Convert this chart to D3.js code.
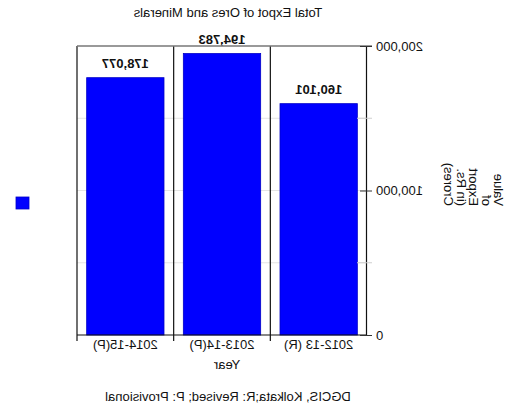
<!DOCTYPE html>
<html>
<head>
<meta charset="utf-8">
<script src="https://cdn.jsdelivr.net/npm/d3@7"></script>
<style>
  html, body { margin: 0; padding: 0; background: #fff; }
  svg { display: block; font-family: "Liberation Sans", Arial, sans-serif; }
</style>
</head>
<body>
<svg id="chart" width="514" height="408"></svg>
<script>
// Export value of ores and minerals, Rs. crores
const categories = ["2012-13 (R)", "2013-14(P)", "2014-15(P)"];
const values = [160101, 194783, 178077];
const yTicks = [0, 100000, 200000];
const yMinor = [50000, 150000];
const titleText = "Total Expot of Ores and Minerals";
const xTitle = "Year";
const yTitleLines = ["Value", "of", "Export", "(in Rs.", "Crores)"];
const sourceText = "DGCIS, Kolkata;R: Revised; P: Provisional";

const W = 514, H = 408;
const plot = { left: 147, right: 437, top: 46, bottom: 335 };
const fmt = d3.format(",");

const svg = d3.select("#chart");
// the whole chart is drawn flipped left-to-right
const root = svg.append("g").attr("transform", `translate(${W},0) scale(-1,1)`);

const x = d3.scaleBand().domain(categories).range([plot.left, plot.right])
  .paddingInner(0.2).paddingOuter(0.1);
const y = d3.scaleLinear().domain([0, 200000]).range([plot.bottom, plot.top]);

// light horizontal gridlines
root.append("g").selectAll("line").data(yMinor.concat([100000])).join("line")
  .attr("x1", plot.left).attr("x2", plot.right)
  .attr("y1", d => y(d)).attr("y2", d => y(d))
  .attr("stroke", "#e4e4e4").attr("stroke-width", 1);

// bars
root.append("g").selectAll("rect").data(values).join("rect")
  .attr("x", (d, i) => x(categories[i]))
  .attr("width", x.bandwidth())
  .attr("y", d => y(d))
  .attr("height", d => y(0) - y(d))
  .attr("fill", "#0000ff")
  .attr("stroke", "#0000c8").attr("stroke-width", 0.8);

// value labels
root.append("g").selectAll("text").data(values).join("text")
  .attr("x", (d, i) => x(categories[i]) + x.bandwidth() / 2)
  .attr("y", d => y(d) - 10)
  .attr("text-anchor", "middle")
  .attr("font-size", 13).attr("font-weight", "bold").attr("fill", "#111")
  .text(d => fmt(d));

// category separators (band boundaries)
const bounds = categories.map(c => x(c) - x.step() * x.paddingInner() / 2).slice(1).concat([plot.right]);
root.append("g").selectAll("line").data(bounds).join("line")
  .attr("x1", d => d).attr("x2", d => d)
  .attr("y1", plot.top).attr("y2", plot.bottom + 6)
  .attr("stroke", "#111").attr("stroke-width", 1.2);

// top line at the maximum
root.append("line")
  .attr("x1", plot.left - 5).attr("x2", plot.right)
  .attr("y1", y(200000)).attr("y2", y(200000))
  .attr("stroke", "#777").attr("stroke-width", 1.6);

// bottom baseline
root.append("line")
  .attr("x1", plot.left).attr("x2", plot.right)
  .attr("y1", y(0)).attr("y2", y(0))
  .attr("stroke", "#111").attr("stroke-width", 1.2);

// y axis
const yAxis = root.append("g")
  .attr("transform", `translate(${plot.left},0)`)
  .call(d3.axisLeft(y).tickValues(yTicks).tickFormat(fmt).tickSize(5).tickPadding(4));
yAxis.select(".domain").attr("stroke", "#111").attr("stroke-width", 1.2);
yAxis.selectAll(".tick line").attr("x2", -5).attr("x1", 7).attr("stroke", "#333");
yAxis.selectAll(".tick text")
  .attr("font-size", 13).attr("font-family", "Liberation Sans, Arial, sans-serif")
  .attr("fill", "#111");

// minor ticks
root.append("g").selectAll("line").data(yMinor).join("line")
  .attr("x1", plot.left - 5).attr("x2", plot.left + 10)
  .attr("y1", d => y(d)).attr("y2", d => y(d))
  .attr("stroke", "#cfcfcf");

// x axis labels
const xAxis = root.append("g")
  .attr("transform", `translate(0,${plot.bottom})`)
  .call(d3.axisBottom(x).tickSize(0).tickPadding(5));
xAxis.select(".domain").remove();
xAxis.selectAll(".tick text")
  .attr("font-size", 13).attr("font-family", "Liberation Sans, Arial, sans-serif")
  .attr("fill", "#111");

// titles
root.append("text").attr("x", 286).attr("y", 17).attr("text-anchor", "middle")
  .attr("font-size", 13).attr("fill", "#111").text(titleText);
root.append("text").attr("x", 287).attr("y", 369).attr("text-anchor", "middle")
  .attr("font-size", 13).attr("fill", "#111").text(xTitle);
root.append("text").attr("x", 286).attr("y", 401).attr("text-anchor", "middle")
  .attr("font-size", 13).attr("fill", "#111").text(sourceText);

// y axis title, rotated, one line per row
const yt = root.append("g").attr("transform", "translate(20,206) rotate(-90)");
yt.selectAll("text").data(yTitleLines).join("text")
  .attr("x", 0).attr("y", (d, i) => i * 12.5)
  .attr("text-anchor", "start")
  .attr("font-size", 13).attr("fill", "#111")
  .text(d => d);

// legend swatch
root.append("rect").attr("x", 485).attr("y", 197).attr("width", 13).attr("height", 12)
  .attr("fill", "#0000ff").attr("stroke", "#0000c8").attr("stroke-width", 0.8);
</script>
</body>
</html>
